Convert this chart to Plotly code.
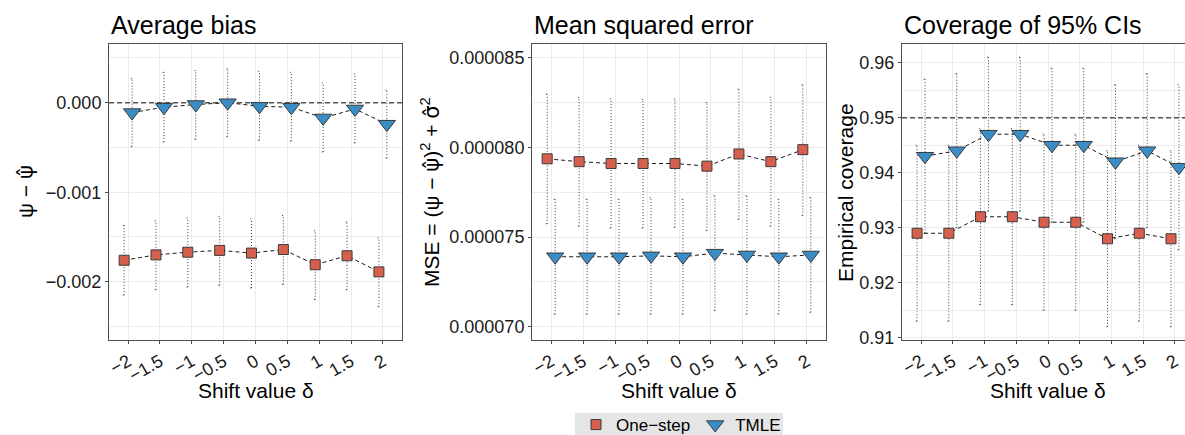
import plotly.graph_objects as go

# Shift values (delta) and their tick labels
shift = [-2, -1.5, -1, -0.5, 0, 0.5, 1, 1.5, 2]
shift_labels = ["−2", "−1.5", "−1", "−0.5", "0", "0.5", "1", "1.5", "2"]

# Average bias
bias_onestep = [-0.00176, -0.00170, -0.00167, -0.00165, -0.00168, -0.00164, -0.00181, -0.00171, -0.00189]
bias_onestep_lo = [-0.00215, -0.00209, -0.00206, -0.00204, -0.00207, -0.00203, -0.00220, -0.00209, -0.00228]
bias_onestep_hi = [-0.00137, -0.00132, -0.00129, -0.00127, -0.00130, -0.00126, -0.00143, -0.00133, -0.00151]
bias_tmle = [-0.00011, -0.00005, -0.00002, 0.00000, -0.00004, -0.00005, -0.00017, -0.00007, -0.00024]
bias_tmle_lo = [-0.00049, -0.00044, -0.00041, -0.00038, -0.00042, -0.00043, -0.00055, -0.00045, -0.00062]
bias_tmle_hi = [0.00027, 0.00034, 0.00036, 0.00038, 0.00035, 0.00034, 0.00022, 0.00032, 0.00014]
bias_ticks = [-0.002, -0.001, 0.0]
bias_tick_labels = ["−0.002", "−0.001", "0.000"]

# Mean squared error
mse_onestep = [7.936e-5, 7.920e-5, 7.910e-5, 7.910e-5, 7.910e-5, 7.895e-5, 7.963e-5, 7.920e-5, 7.987e-5]
mse_onestep_lo = [7.574e-5, 7.560e-5, 7.550e-5, 7.550e-5, 7.554e-5, 7.536e-5, 7.598e-5, 7.560e-5, 7.620e-5]
mse_onestep_hi = [8.297e-5, 8.278e-5, 8.270e-5, 8.267e-5, 8.270e-5, 8.250e-5, 8.324e-5, 8.280e-5, 8.350e-5]
mse_tmle = [7.390e-5, 7.390e-5, 7.390e-5, 7.395e-5, 7.390e-5, 7.410e-5, 7.400e-5, 7.390e-5, 7.400e-5]
mse_tmle_lo = [7.070e-5, 7.070e-5, 7.070e-5, 7.070e-5, 7.070e-5, 7.090e-5, 7.070e-5, 7.070e-5, 7.080e-5]
mse_tmle_hi = [7.710e-5, 7.710e-5, 7.710e-5, 7.720e-5, 7.710e-5, 7.730e-5, 7.730e-5, 7.710e-5, 7.720e-5]
mse_ticks = [7.0e-5, 7.5e-5, 8.0e-5, 8.5e-5]
mse_tick_labels = ["0.000070", "0.000075", "0.000080", "0.000085"]

# Empirical coverage of 95% CIs
cov_onestep = [0.929, 0.929, 0.932, 0.932, 0.931, 0.931, 0.928, 0.929, 0.928]
cov_onestep_lo = [0.913, 0.913, 0.916, 0.916, 0.915, 0.915, 0.912, 0.913, 0.912]
cov_onestep_hi = [0.945, 0.945, 0.948, 0.948, 0.947, 0.947, 0.944, 0.945, 0.944]
cov_tmle = [0.943, 0.944, 0.947, 0.947, 0.945, 0.945, 0.942, 0.944, 0.941]
cov_tmle_lo = [0.929, 0.930, 0.933, 0.933, 0.931, 0.931, 0.928, 0.930, 0.926]
cov_tmle_hi = [0.957, 0.958, 0.961, 0.961, 0.959, 0.959, 0.956, 0.958, 0.956]
cov_ticks = [0.91, 0.92, 0.93, 0.94, 0.95, 0.96]
cov_tick_labels = ["0.91", "0.92", "0.93", "0.94", "0.95", "0.96"]

estimators = ["One−step", "TMLE"]

# ---- styling -------------------------------------------------------------
W, H = 1185, 435
FONT = "Liberation Sans, Arial, Helvetica, sans-serif"
FILLS = {"One−step": "#D6604D", "TMLE": "#3A8DC6"}
SYMBOLS = {"One−step": "square", "TMLE": "triangle-down"}
SIZES = {"One−step": 10, "TMLE": 15}
OFFSET = {"One−step": -0.0625, "TMLE": 0.0625}
EDGE = "#3b3b3b"
GRID = "#EBEBEB"
FRAME = "#4d4d4d"
CAP = 0.02
TOP_PX, BOTTOM_PX = 44, 340

PSI_HAT = '<span style="font-family:DejaVu Sans">ψ̂</span>'
SIGMA_HAT = '<span style="font-family:DejaVu Sans">σ̂</span>'


def fx(p):
    return p / W


def fy(p):
    return 1 - p / H


panels = [
    dict(title="Average bias", ytitle="ψ − " + PSI_HAT,
         est=[bias_onestep, bias_tmle], lo=[bias_onestep_lo, bias_tmle_lo], hi=[bias_onestep_hi, bias_tmle_hi],
         ticks=bias_ticks, labels=bias_tick_labels, yrange=[-0.002651, 0.000656], minor=0.0005,
         ref=0.0, dom=(109, 402), xrange=[-2.3, 2.3], ytitle_px=26, xtitle_px=255.5, right_line=True),
    dict(title="Mean squared error",
         ytitle="MSE = (ψ − " + PSI_HAT + ")<sup>2</sup> + " + SIGMA_HAT + "<sup>2</sup>",
         est=[mse_onestep, mse_tmle], lo=[mse_onestep_lo, mse_tmle_lo], hi=[mse_onestep_hi, mse_tmle_hi],
         ticks=mse_ticks, labels=mse_tick_labels, yrange=[6.926e-5, 8.576e-5], minor=2.5e-6,
         ref=None, dom=(532, 826), xrange=[-2.3, 2.3], ytitle_px=430, xtitle_px=679, right_line=True),
    dict(title="Coverage of 95% CIs", ytitle="Empirical coverage",
         est=[cov_onestep, cov_tmle], lo=[cov_onestep_lo, cov_tmle_lo], hi=[cov_onestep_hi, cov_tmle_hi],
         ticks=cov_ticks, labels=cov_tick_labels, yrange=[0.9096, 0.9634], minor=0.005,
         ref=0.95, dom=(902, 1185), xrange=[-2.3, 2.158], ytitle_px=845, xtitle_px=1048, right_line=False),
]

fig = go.Figure()
annotations = []
shapes = []

for i, p in enumerate(panels):
    n = "" if i == 0 else str(i + 1)
    xa, ya = "x" + n, "y" + n

    # dotted interval bars with tiny caps
    for k, name in enumerate(estimators):
        xs = [s + OFFSET[name] for s in shift]
        bx, by = [], []
        for x, l, h in zip(xs, p["lo"][k], p["hi"][k]):
            bx += [x, x, None, x - CAP, x + CAP, None, x - CAP, x + CAP, None]
            by += [l, h, None, l, l, None, h, h, None]
        fig.add_trace(go.Scatter(x=bx, y=by, xaxis=xa, yaxis=ya, mode="lines",
                                 line=dict(color="#262626", width=0.9, dash="1px,2px"),
                                 showlegend=False, hoverinfo="skip"))

    # dashed reference level
    if p["ref"] is not None:
        fig.add_trace(go.Scatter(x=[p["xrange"][0], p["xrange"][1]], y=[p["ref"], p["ref"]],
                                 xaxis=xa, yaxis=ya, mode="lines",
                                 line=dict(color="#555555", width=1.4, dash="5px,3px"),
                                 showlegend=False, hoverinfo="skip"))

    # dashed connecting lines
    for k, name in enumerate(estimators):
        xs = [s + OFFSET[name] for s in shift]
        fig.add_trace(go.Scatter(x=xs, y=p["est"][k], xaxis=xa, yaxis=ya, mode="lines",
                                 line=dict(color="black", width=0.9, dash="4px,3px"),
                                 showlegend=False, hoverinfo="skip"))

    # point estimates
    for k, name in enumerate(estimators):
        xs = [s + OFFSET[name] for s in shift]
        fig.add_trace(go.Scatter(
            x=xs, y=p["est"][k], xaxis=xa, yaxis=ya, mode="markers", name=name,
            marker=dict(symbol=SYMBOLS[name], size=SIZES[name], color=FILLS[name],
                        line=dict(color=EDGE, width=1)),
            showlegend=(i == 0), legendgroup=name))

    x0, x1 = fx(p["dom"][0]), fx(p["dom"][1])
    fig.update_layout(**{
        "xaxis" + n: dict(domain=[x0, x1], range=p["xrange"], anchor=ya,
                          tickmode="array", tickvals=shift, ticktext=shift_labels, tickangle=-30,
                          ticks="outside", ticklen=3, tickcolor=FRAME, tickwidth=1,
                          showgrid=True, gridcolor=GRID, gridwidth=1, zeroline=False,
                          showline=True, linecolor=FRAME, linewidth=1, mirror=True,
                          tickfont=dict(family=FONT, size=18, color="#1a1a1a"), automargin=False),
        "yaxis" + n: dict(domain=[fy(BOTTOM_PX), fy(TOP_PX)], range=p["yrange"], anchor=xa,
                          tickmode="array", tickvals=p["ticks"], ticktext=p["labels"],
                          ticks="outside", ticklen=3, tickcolor=FRAME, tickwidth=1,
                          showgrid=True, gridcolor=GRID, gridwidth=1, zeroline=False,
                          minor=dict(dtick=p["minor"], tick0=p["ticks"][0], showgrid=True,
                                     gridcolor=GRID, gridwidth=0.8),
                          showline=True, linecolor=FRAME, linewidth=1, mirror=p["right_line"],
                          tickfont=dict(family=FONT, size=18, color="#1a1a1a"), automargin=False),
    })

    annotations.append(dict(text=p["title"], xref="paper", yref="paper", x=x0, y=fy(25),
                            xanchor="left", yanchor="middle", showarrow=False,
                            font=dict(family=FONT, size=25, color="black")))
    annotations.append(dict(text="Shift value δ", xref="paper", yref="paper", x=fx(p["xtitle_px"]),
                            y=fy(390), xanchor="center", yanchor="middle", showarrow=False,
                            font=dict(family=FONT, size=21, color="black")))
    annotations.append(dict(text=p["ytitle"], xref="paper", yref="paper", x=fx(p["ytitle_px"]),
                            y=fy((TOP_PX + BOTTOM_PX) / 2), xanchor="center", yanchor="middle",
                            textangle=-90, showarrow=False,
                            font=dict(family=FONT, size=21, color="black")))

# grey legend panel behind the legend entries
shapes.append(dict(type="rect", xref="paper", yref="paper", layer="below",
                   x0=fx(575), x1=fx(783), y0=fy(435), y1=fy(413),
                   fillcolor="#E5E5E5", line=dict(width=0)))

fig.update_layout(
    width=W, height=H,
    margin=dict(l=0, r=0, t=0, b=0, autoexpand=False),
    paper_bgcolor="white", plot_bgcolor="white",
    annotations=annotations, shapes=shapes,
    showlegend=True,
    legend=dict(orientation="h", x=fx(681), xanchor="center", y=fy(425), yanchor="middle",
                bgcolor="rgba(0,0,0,0)", font=dict(family=FONT, size=17, color="black"),
                itemwidth=30, tracegroupgap=0),
)

fig.write_html("out.html")
